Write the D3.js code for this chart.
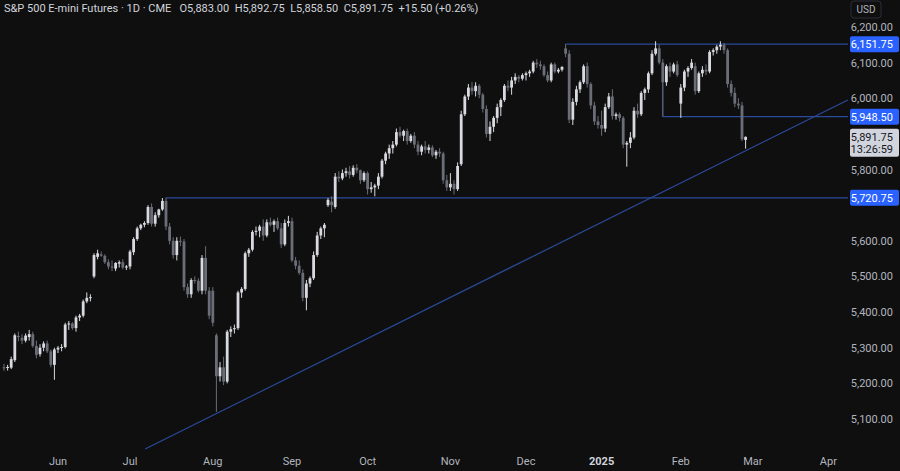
<!DOCTYPE html>
<html>
<head>
    <script src="https://d3js.org/d3.v7.min.js"></script>
    <style>
        body { margin: 0; background-color: #0f0f0f; font-family: 'Roboto', sans-serif; }
    </style>
</head>
<body>
    <svg id="chart" width="900" height="471"></svg>
    <script>
        // [open, high, low, close] per trading day
        var may24 = [[5245,5255,5235,5243],[5243,5252,5236,5246],[5244,5275,5240,5268],[5265,5340,5260,5335],[5333,5345,5318,5330],
            [5328,5338,5310,5320],[5320,5340,5315,5334],[5330,5350,5320,5338],[5338,5345,5300,5305],[5305,5320,5270,5280],
            [5282,5310,5275,5300],[5300,5318,5290,5312],[5312,5320,5285,5290],[5290,5295,5245,5252],[5252,5300,5210,5295]];
        var jun24 = [[5295,5305,5285,5300],[5300,5310,5290,5302],[5302,5370,5298,5365],[5365,5375,5350,5368],[5368,5372,5350,5355],
            [5355,5390,5345,5385],[5385,5395,5375,5390],[5390,5435,5385,5430],[5430,5455,5425,5440],[5440,5450,5430,5442],
            [5500,5565,5495,5560],[5555,5575,5548,5565],[5562,5570,5555,5558],[5558,5562,5535,5540],[5540,5548,5520,5528],
            [5528,5545,5515,5525],[5522,5540,5515,5538],[5536,5545,5525,5540],[5540,5548,5520,5525],[5525,5532,5518,5528]];
        var jul24 = [[5528,5575,5520,5570],[5568,5610,5560,5605],[5605,5640,5600,5635],[5635,5648,5630,5645],[5645,5655,5638,5650],
            [5650,5700,5645,5695],[5695,5705,5640,5648],[5648,5680,5640,5672],[5672,5690,5665,5688],[5688,5720,5684,5712],
            [5712,5721,5630,5640],[5640,5650,5590,5600],[5600,5610,5550,5560],[5560,5610,5545,5600],[5600,5612,5585,5598],
            [5598,5605,5460,5470],[5470,5480,5440,5450],[5450,5495,5440,5490],[5490,5500,5480,5488],[5488,5495,5455,5460],
            [5460,5560,5450,5552],[5552,5585,5450,5460],[5460,5470,5380,5390]];
        var aug24 = [[5460,5470,5360,5370],[5335,5340,5120,5220],[5220,5260,5205,5245],[5245,5275,5195,5205],[5205,5350,5200,5345],
            [5345,5360,5330,5352],[5352,5365,5340,5355],[5355,5460,5350,5455],[5455,5470,5440,5465],[5465,5570,5460,5565],
            [5565,5580,5555,5575],[5575,5630,5570,5625],[5625,5640,5615,5628],[5628,5645,5610,5640],[5640,5660,5600,5615],
            [5615,5660,5610,5652],[5652,5665,5640,5645],[5645,5660,5625,5655],[5655,5665,5630,5635],[5635,5650,5580,5590],
            [5590,5660,5585,5650],[5650,5670,5640,5655]];
        var sep24 = [[5655,5665,5540,5545],[5545,5555,5520,5530],[5530,5545,5505,5510],[5510,5520,5430,5440],[5440,5490,5405,5480],
            [5480,5500,5470,5495],[5495,5570,5490,5560],[5560,5625,5555,5615],[5615,5640,5605,5635],[5635,5650,5610,5645],
            [5700,5720,5695,5715],[5710,5725,5680,5700],[5695,5790,5690,5780],[5780,5795,5765,5775],[5775,5800,5770,5790],
            [5790,5805,5780,5795],[5795,5810,5775,5785],[5785,5812,5780,5805],[5805,5815,5790,5798],[5798,5800,5760,5770],
            [5770,5795,5765,5790]];
        var oct24 = [[5790,5795,5730,5745],[5745,5765,5735,5750],[5750,5760,5725,5755],[5755,5790,5745,5780],[5780,5830,5775,5825],
            [5825,5850,5815,5845],[5845,5870,5830,5860],[5860,5880,5845,5870],[5870,5915,5865,5905],[5905,5920,5890,5895],
            [5895,5912,5880,5908],[5908,5915,5870,5880],[5880,5900,5875,5895],[5895,5905,5860,5870],[5870,5880,5840,5850],
            [5850,5870,5840,5865],[5865,5880,5845,5855],[5855,5870,5845,5862],[5862,5868,5835,5840],[5840,5855,5830,5850],
            [5850,5860,5835,5845],[5845,5850,5760,5770],[5770,5785,5740,5750]];
        var nov24 = [[5750,5790,5740,5760],[5760,5770,5730,5745],[5745,5820,5740,5810],[5815,5965,5810,5955],[5955,6010,5950,6005],
            [6005,6040,5995,6030],[6030,6045,6010,6020],[6020,6045,6005,6035],[6035,6040,6000,6010],[6010,6015,5960,5970],
            [5970,5980,5890,5900],[5900,5935,5880,5920],[5920,5950,5905,5945],[5945,5985,5930,5975],[5975,6000,5950,5995],
            [5995,6040,5990,6035],[6035,6050,6020,6030],[6030,6060,6010,6050],[6050,6070,6040,6060],[6060,6065,6045,6055],
            [6055,6070,6050,6065]];
        var dec24 = [[6065,6075,6050,6070],[6070,6080,6060,6075],[6075,6105,6070,6100],[6100,6110,6085,6095],[6095,6105,6080,6090],
            [6090,6095,6060,6065],[6065,6075,6045,6050],[6050,6100,6045,6095],[6095,6100,6070,6075],[6075,6085,6070,6080],
            [6080,6090,6075,6088],[6140,6152,6115,6125],[6125,6135,5930,5940],[5940,6000,5925,5990],[5990,6035,5980,6025],
            [6025,6050,6015,6045],[6045,6095,6040,6090],[6090,6100,6030,6040],[6040,6045,5970,5980],[5980,5990,5925,5935],
            [5935,5950,5915,5925]];
        var jan25 = [[5925,5965,5895,5915],[5915,5985,5905,5975],[5975,6015,5970,6005],[6005,6025,5940,5950],[5950,5960,5940,5955],
            [5955,5960,5935,5945],[5945,5950,5860,5870],[5870,5880,5808,5875],[5875,5905,5860,5890],[5890,5975,5885,5965],
            [5965,5985,5945,5955],[5955,6020,5950,6015],[6015,6030,5995,6025],[6025,6075,6015,6070],[6070,6135,6065,6125],
            [6125,6160,6120,6140],[6140,6150,6095,6100],[6100,6110,5948.5,6045],[6045,6095,6035,6090],[6090,6100,6060,6075],
            [6075,6100,6070,6095],[6095,6105,6060,6065]];
        var feb25 = [[5985,6040,5945,6030],[6030,6080,6020,6075],[6075,6090,6060,6085],[6085,6110,6080,6100],[6090,6100,6010,6020],
            [6020,6075,6015,6070],[6070,6090,6060,6080],[6080,6095,6065,6075],[6075,6135,6070,6130],[6130,6140,6120,6135],
            [6135,6150,6125,6145],[6145,6160,6135,6150],[6150,6155,6125,6135],[6135,6140,6030,6040],[6040,6050,6005,6015],
            [6015,6030,5975,5985],[5985,6000,5970,5980],[5980,5990,5880,5885],[5883,5892.75,5858.5,5891.75]];

        var monthLabels = ["Jun", "Jul", "Aug", "Sep", "Oct", "Nov", "Dec", "2025", "Feb", "Mar", "Apr"];
        var monthIndex = [15, 35, 58, 80, 101, 124, 145, 166, 188, 208, 229];
        var priceTicks = [5100, 5200, 5300, 5400, 5500, 5600, 5700, 5800, 5900, 6000, 6100, 6200];

        // levels: [start bar index, price]
        var levels = [[45, 5720.75], [156, 6151.75], [183, 5948.50]];
        var trendPts = [[39.2, 5016], [234.4, 5995]];
        var lastClose = 5891.75;
        var countdown = "13:26:59";
        var header = "S&P 500 E-mini Futures \u00b7 1D \u00b7 CME   O5,883.00  H5,892.75  L5,858.50  C5,891.75  +15.50 (+0.26%)";

        var candles = [].concat(may24, jun24, jul24, aug24, sep24, oct24, nov24, dec24, jan25, feb25);

        var svg = d3.select("#chart");
        var plotRight = 848;

        var xScale = d3.scaleLinear().domain([0, 229]).range([4, 828.4]);
        var yScale = d3.scaleLinear().domain([5100, 6200]).range([419, 27]);
        var fmt = d3.format(",.2f");
        var upColor = "#d8dae0";
        var downColor = "#6b6e78";

        svg.append("rect").attr("width", 900).attr("height", 471).attr("fill", "#0f0f0f");

        var plot = svg.append("g");

        // horizontal levels
        levels.forEach(function (d) {
            plot.append("line")
                .attr("x1", xScale(d[0])).attr("x2", plotRight)
                .attr("y1", yScale(d[1])).attr("y2", yScale(d[1]))
                .style("stroke", "#2b4a9c").style("stroke-width", 1.2);
        });
        // small vertical edge at start of the 5948.50 box
        plot.append("line")
            .attr("x1", xScale(levels[2][0])).attr("x2", xScale(levels[2][0]))
            .attr("y1", yScale(6100)).attr("y2", yScale(levels[2][1]))
            .style("stroke", "#2b4a9c").style("stroke-width", 1);

        plot.append("line")
            .attr("x1", xScale(trendPts[0][0])).attr("y1", yScale(trendPts[0][1]))
            .attr("x2", xScale(trendPts[1][0])).attr("y2", yScale(trendPts[1][1]))
            .style("stroke", "#2b4a9c").style("stroke-width", 1.2);

        var bars = plot.selectAll("g.candle").data(candles).enter().append("g");
        bars.append("line")
            .attr("x1", function (d, i) { return xScale(i); })
            .attr("x2", function (d, i) { return xScale(i); })
            .attr("y1", function (d) { return yScale(d[1]); })
            .attr("y2", function (d) { return yScale(d[2]); })
            .style("stroke", function (d) { return d[3] >= d[0] ? upColor : downColor; })
            .style("stroke-width", 1);
        bars.append("rect")
            .attr("x", function (d, i) { return xScale(i) - 1.4; })
            .attr("width", 2.8)
            .attr("y", function (d) { return yScale(Math.max(d[0], d[3])); })
            .attr("height", function (d) { return Math.max(1, Math.abs(yScale(d[0]) - yScale(d[3]))); })
            .style("fill", function (d) { return d[3] >= d[0] ? upColor : downColor; });

        // price axis; tick labels covered by a price box are not drawn
        var boxPrices = levels.map(function (d) { return d[1]; }).concat([lastClose]);
        var axis = svg.append("g");
        priceTicks.forEach(function (p) {
            var covered = boxPrices.some(function (b) { return Math.abs(yScale(b) - yScale(p)) < 14; });
            if (covered) return;
            axis.append("text")
                .attr("x", 893).attr("y", yScale(p) + 4)
                .attr("text-anchor", "end")
                .style("font-size", "11px").style("fill", "#b2b5be")
                .text(fmt(p));
        });
        axis.append("rect").attr("x", 851).attr("y", 1).attr("width", 30).attr("height", 17)
            .attr("rx", 3).style("fill", "none").style("stroke", "#2a2e39");
        axis.append("text").attr("x", 866).attr("y", 13).attr("text-anchor", "middle")
            .style("font-size", "10px").style("fill", "#b2b5be").text("USD");

        levels.forEach(function (d) {
            var y = yScale(d[1]);
            axis.append("rect").attr("x", 850).attr("y", y - 8).attr("width", 49).attr("height", 16)
                .attr("rx", 2).style("fill", "#2962ff");
            axis.append("text").attr("x", 893).attr("y", y + 4).attr("text-anchor", "end")
                .style("font-size", "11px").style("fill", "#ffffff").text(fmt(d[1]));
        });

        var yc = yScale(lastClose);
        axis.append("rect").attr("x", 850).attr("y", yc - 8).attr("width", 49).attr("height", 28)
            .attr("rx", 2).style("fill", "#d1d4dc");
        axis.append("text").attr("x", 893).attr("y", yc + 4).attr("text-anchor", "end")
            .style("font-size", "11px").style("fill", "#131722").text(fmt(lastClose));
        axis.append("text").attr("x", 893).attr("y", yc + 16).attr("text-anchor", "end")
            .style("font-size", "11px").style("fill", "#131722").text(countdown);

        // time axis
        monthLabels.forEach(function (m, i) {
            svg.append("text")
                .attr("x", xScale(monthIndex[i])).attr("y", 465)
                .attr("text-anchor", "middle")
                .style("font-size", "11px")
                .style("font-weight", m === "2025" ? "bold" : "normal")
                .style("fill", m === "2025" ? "#d1d4dc" : "#b2b5be")
                .text(m);
        });

        // header
        svg.append("text").attr("x", 4).attr("y", 12)
            .attr("xml:space", "preserve")
            .style("white-space", "pre")
            .style("font-size", "11px").style("fill", "#d1d4dc")
            .text(header);
    </script>
</body>
</html>
